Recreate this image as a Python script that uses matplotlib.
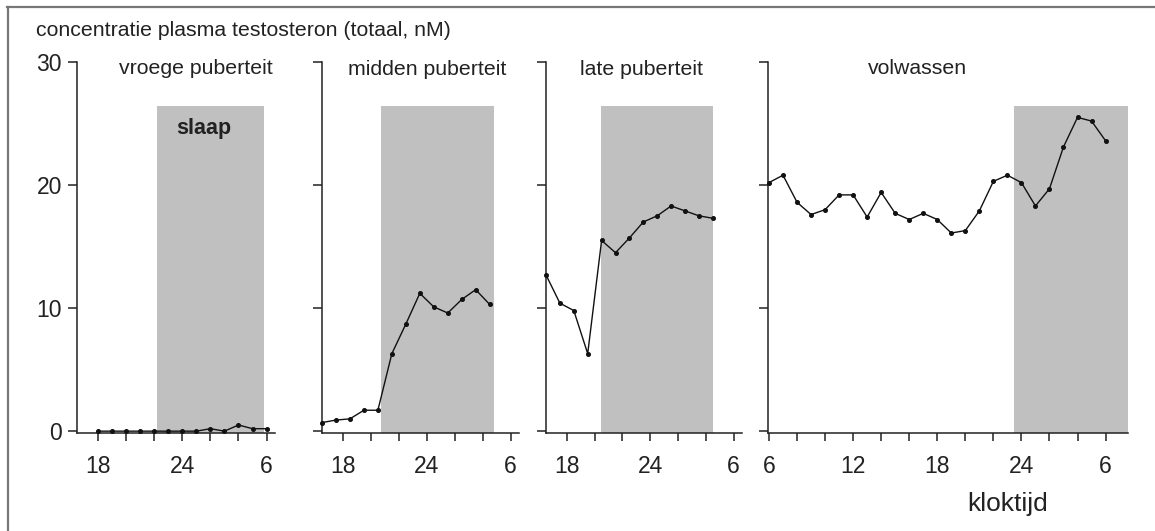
import matplotlib
matplotlib.use("Agg")
import matplotlib.pyplot as plt
from matplotlib.patches import Rectangle
from matplotlib.lines import Line2D

plt.rcParams['font.family'] = ['Liberation Sans', 'DejaVu Sans']

# data (testosterone, nM)
hours_puberty = [16.5, 17.5, 18.5, 19.5, 20.5, 21.5, 22.5, 23.5, 24.5, 25.5, 26.5, 27.5, 28.5]
hours_early = [18, 19, 20, 21, 22, 23, 24, 25, 26, 27, 28, 29, 30]
hours_adult = [6, 7, 8, 9, 10, 11, 12, 13, 14, 15, 16, 17, 18, 19, 20, 21, 22,
               23, 24, 25, 26, 27, 28, 29, 30]

early = [0.0, 0.0, 0.0, 0.0, 0.0, 0.0, 0.0, 0.0, 0.2, 0.0, 0.5, 0.2, 0.2]
middle = [0.7, 0.9, 1.0, 1.7, 1.7, 6.3, 8.7, 11.2, 10.1, 9.6, 10.7, 11.5, 10.3]
late = [12.7, 10.4, 9.8, 6.3, 15.5, 14.5, 15.7, 17.0, 17.5, 18.3, 17.9, 17.5, 17.3]
adult = [20.2, 20.8, 18.6, 17.6, 18.0, 19.2, 19.2, 17.4, 19.4, 17.7, 17.2, 17.7,
         17.2, 16.1, 16.3, 17.9, 20.3, 20.8, 20.2, 18.3, 19.7, 23.1, 25.5, 25.2, 23.6]

titles = ["vroege puberteit", "midden puberteit", "late puberteit", "volwassen"]
sleep = [(22.2, 29.8), (20.7, 28.8), (20.45, 28.5), (23.5, 31.6)]
sleep_top = 26.4

W, H = 1155, 531
fig = plt.figure(figsize=(W / 100, H / 100), dpi=100)

# gray frame (top and left edge only visible)
fig.add_artist(Line2D([7 / W, 1], [1 - 6.5 / H] * 2, color="#777777", lw=1.6))
fig.add_artist(Line2D([7.5 / W] * 2, [0, 1 - 6.5 / H], color="#777777", lw=1.6))

# axes boxes in pixels: left, right
boxes = [(77, 275), (322, 519), (546, 742), (768, 1128)]
top_px, bot_px = 62, 433
xlims = [(16.5, 30.6), (16.5, 30.6), (16.5, 30.6), (5.93, 31.6)]
xs = [hours_early, hours_puberty, hours_puberty, hours_adult]
ys = [early, middle, late, adult]
title_pos = [(25.0, 29.5), (24.0, 29.4), (23.4, 29.4), (16.6, 29.5)]

for i in range(4):
    l, r = boxes[i]
    ax = fig.add_axes([l / W, 1 - bot_px / H, (r - l) / W, (bot_px - top_px) / H])
    ax.set_xlim(*xlims[i])
    ax.set_ylim(-0.15, 30)
    ax.patch.set_visible(False)
    for s in ["top", "right"]:
        ax.spines[s].set_visible(False)
    for s in ["left", "bottom"]:
        ax.spines[s].set_linewidth(1.1)
        ax.spines[s].set_color("#222222")

    s0, s1 = sleep[i]
    ax.add_patch(Rectangle((s0, -0.15), s1 - s0, sleep_top + 0.15,
                           facecolor="#c0c0c0", edgecolor="none", zorder=0))
    ax.plot(xs[i], ys[i], color="#111111", lw=1.0, marker="o", ms=2.6, zorder=3,
            clip_on=False)

    ax.set_yticks([0, 10, 20, 30])
    if i == 0:
        ax.set_yticklabels(["0", "10", "20", "30"])
    else:
        ax.set_yticklabels([])
    if i < 3:
        ticks = list(range(18, 31, 2))
        labels = {18: "18", 24: "24", 30: "6"}
    else:
        ticks = list(range(6, 31, 2))
        labels = {6: "6", 12: "12", 18: "18", 24: "24", 30: "6"}
    ax.set_xticks(ticks)
    ax.set_xticklabels([labels.get(t, "") for t in ticks])
    ax.tick_params(axis="y", direction="out", length=6.8, width=1.1, pad=4,
                   labelsize=16.5, color="#222222", labelcolor="#222222")
    ax.tick_params(axis="x", direction="out", length=5.8, width=1.1, pad=10,
                   labelsize=16.5, color="#222222", labelcolor="#222222")

    tx, ty = title_pos[i]
    ax.text(tx, ty, titles[i], ha="center", va="center", fontsize=15.3,
            color="#222222")
    if i == 0:
        ax.text(25.5, 24.6, "slaap", ha="center", va="center", fontsize=15.5,
                fontweight="bold", color="#222222")
    if i == 3:
        ax.text(23.0, -5.9, "kloktijd", ha="center", va="center", fontsize=19,
                color="#222222")

fig.text(36 / W, 1 - 30 / H, "concentratie plasma testosteron (totaal, nM)",
         ha="left", va="center", fontsize=15.3, color="#222222")

fig.savefig("out.png", dpi=100)
